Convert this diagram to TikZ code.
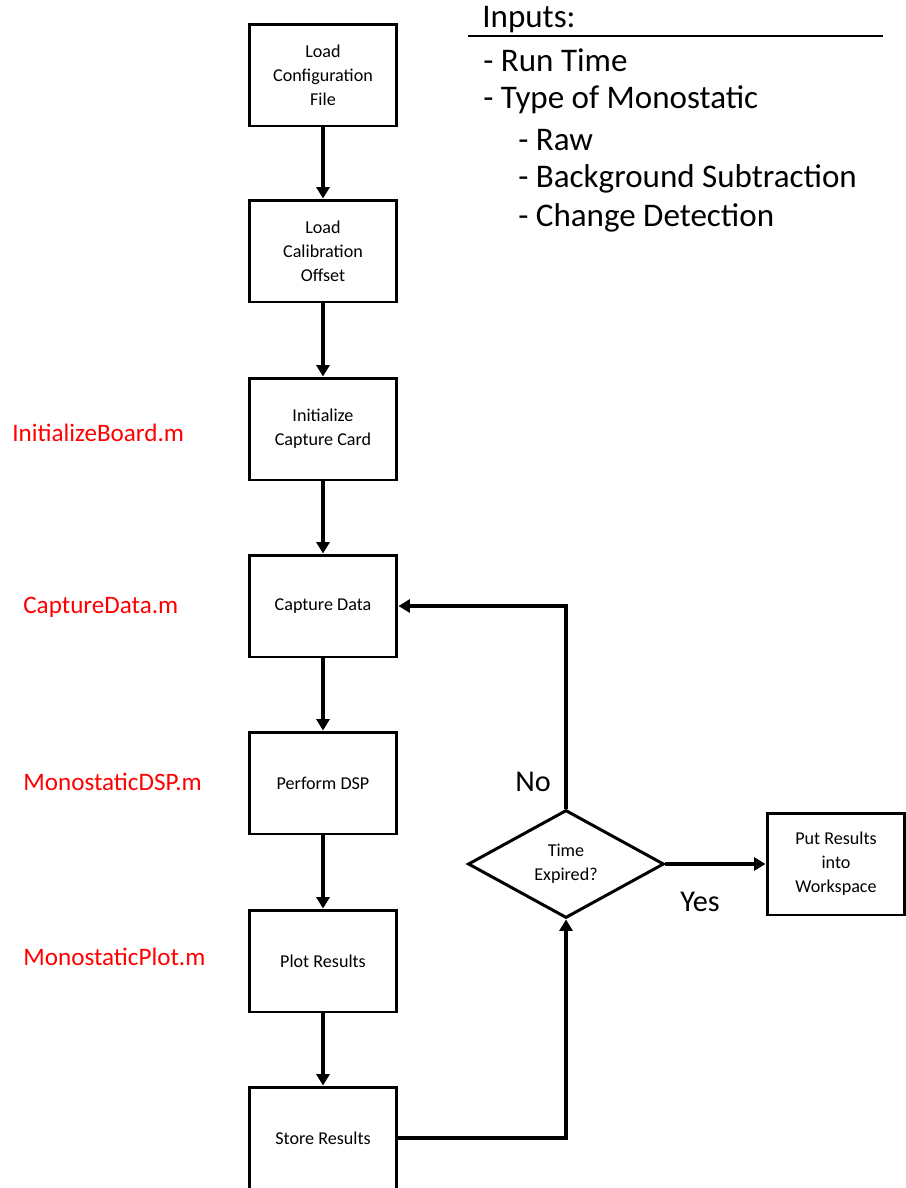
\documentclass[tikz,border=0pt]{standalone}
\usepackage{fontspec}
\setmainfont{Carlito}
\usetikzlibrary{shapes.geometric,arrows.meta}

\tikzset{
  stepbox/.style={draw=black, line width=1.7pt, minimum width=2.96cm, minimum height=2.04cm,
    align=center, font=\fontsize{10.3}{13.6}\selectfont},
  decision/.style={draw=black, diamond, line width=1.7pt, minimum width=3.92cm, minimum height=2.16cm,
    aspect=1.8, inner sep=0pt, align=center, font=\fontsize{10.3}{13.6}\selectfont},
  flow/.style={line width=2.3pt, -{Triangle[length=6.5pt,width=7.4pt]}},
  mfile/.style={text=red, anchor=west, inner sep=0pt, font=\fontsize{14.3}{16}\selectfont},
  inputline/.style={anchor=west, inner sep=0pt, font=\fontsize{18.8}{22}\selectfont},
  answer/.style={inner sep=0pt, font=\fontsize{17.2}{20}\selectfont}
}

\begin{document}
\begin{tikzpicture}[x=0.02cm, y=-0.02cm]
\useasboundingbox (0,0) rectangle (906,1188);

% Main column
\node [stepbox] (config) at (323,75) {Load\\Configuration\\File};
\node [stepbox] (calib) at (323,251) {Load\\Calibration\\Offset};
\node [stepbox] (init) at (323,429) {Initialize\\Capture Card};
\node [stepbox] (capture) at (323,606) {Capture Data};
\node [stepbox] (dsp) at (323,783) {Perform DSP};
\node [stepbox] (plot) at (323,961) {Plot Results};
\node [stepbox] (store) at (323,1138) {Store Results};

% Decision and output
\node [decision] (expired) at (566,864) {Time\\Expired?};
\node [stepbox, minimum width=2.76cm] (workspace) at (836,864) {Put Results\\into\\Workspace};

% Matlab files
\node [mfile] (initm) at (12,433) {InitializeBoard.m};
\node [mfile] (capm) at (23,607) {CaptureData.m};
\node [mfile] (dspm) at (23,782) {MonostaticDSP.m};
\node [mfile] (plotm) at (23,957) {MonostaticPlot.m};

% Inputs
\node [inputline] (inputs) at (482,20) {Inputs:};
\coordinate (ruleA) at (468,36);
\coordinate (ruleB) at (883,36);
\draw [line width=1pt] (ruleA) -- (ruleB);
\node [inputline] (runtime) at (483,60) {- Run Time};
\node [inputline] (mtype) at (483,100) {- Type of Monostatic};
\node [inputline] (raw) at (518,140) {- Raw};
\node [inputline] (bgsub) at (518,179) {- Background Subtraction};
\node [inputline] (change) at (518,218) {- Change Detection};

% Connectors
\draw [flow] (config) -- (calib);
\draw [flow] (calib) -- (init);
\draw [flow] (init) -- (capture);
\draw [flow] (capture) -- (dsp);
\draw [flow] (dsp) -- (plot);
\draw [flow] (plot) -- (store);
\draw [flow] (store.east) -| (expired.south);
\draw [flow] (expired.north) |- (capture.east);
\draw [flow] (expired.east) -- (workspace.west);

\node [answer] (no) at (533,782) {No};
\node [answer] (yes) at (700,902) {Yes};
\end{tikzpicture}
\end{document}
